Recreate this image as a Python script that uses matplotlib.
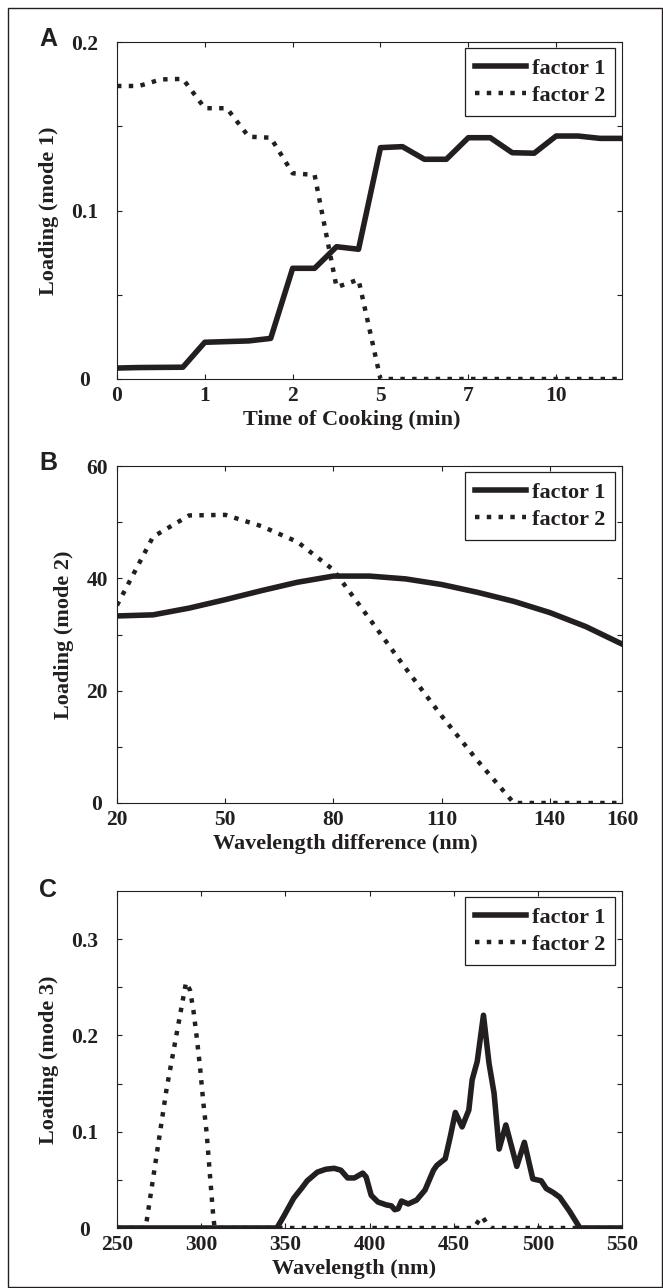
import matplotlib
matplotlib.use("Agg")
import matplotlib.pyplot as plt
from matplotlib.patches import Rectangle

# panel A: time of cooking, sample index with labelled minutes
a_index = list(range(1, 25))
a_ticks = [1, 5, 9, 13, 17, 21]
a_ticklabels = ["0", "1", "2", "5", "7", "10"]
a_factor1 = [0.0065, 0.0068, 0.0069, 0.0070, 0.0218, 0.0222, 0.0226, 0.0241,
             0.0657, 0.0657, 0.0785, 0.0770, 0.1373, 0.1379, 0.1304, 0.1304,
             0.1432, 0.1432, 0.1343, 0.1340, 0.1442, 0.1442, 0.1428, 0.1428]
a_factor2 = [0.1739, 0.1739, 0.1778, 0.1781, 0.1607, 0.1607, 0.1438, 0.1432,
             0.1221, 0.1211, 0.0545, 0.0590, 0.0, 0.0, 0.0, 0.0,
             0.0, 0.0, 0.0, 0.0, 0.0, 0.0, 0.0, 0.0]

# panel B: wavelength difference
b_wl = [20, 30, 40, 50, 60, 70, 80, 90, 100, 110, 120, 130, 140, 150, 160]
b_factor1 = [33.3, 33.5, 34.7, 36.2, 37.8, 39.3, 40.4, 40.4, 39.9, 38.9,
             37.5, 35.9, 33.9, 31.4, 28.3]
b_factor2 = [35.2, 47.4, 51.2, 51.3, 49.3, 46.5, 41.5, 32.8, 24.0, 15.5,
             7.5, 0.0, 0.0, 0.0, 0.0]

# panel C: wavelength
c_wl1 = [250, 345, 349, 355, 360, 363, 369, 374, 379, 383, 387, 391, 396,
         398, 401, 405, 410, 413, 415, 417, 419, 423, 428, 433, 438, 440,
         445, 448, 451, 455, 459, 461, 464, 467.7, 471, 474, 477, 481, 487.5,
         492, 497, 502, 505, 509, 513, 519, 525, 550]
c_factor1 = [0, 0, 0.012, 0.031, 0.042, 0.049, 0.058, 0.061, 0.062, 0.060,
             0.052, 0.052, 0.057, 0.053, 0.034, 0.027, 0.024, 0.023, 0.019,
             0.020, 0.028, 0.025, 0.029, 0.0395, 0.060, 0.065, 0.072, 0.095,
             0.120, 0.105, 0.1225, 0.154, 0.173, 0.221, 0.171, 0.140, 0.082,
             0.107, 0.064, 0.089, 0.051, 0.049, 0.041, 0.037, 0.032, 0.017,
             0, 0]
c_wl2 = [250, 267, 279.5, 291, 293.4, 295.4, 297.3, 299.3, 301.3, 303.3,
         305.3, 307.2, 308, 462, 465, 467, 469.5, 472, 550]
c_factor2 = [0, 0, 0.145, 0.255, 0.247, 0.226, 0.199, 0.1675, 0.130, 0.098,
             0.053, 0.012, 0, 0, 0.008, 0.012, 0.005, 0, 0]

INK = "#231f20"
W, H = 663, 1288

plt.rcParams["font.family"] = ["Liberation Serif", "DejaVu Serif"]
plt.rcParams["font.weight"] = "bold"
plt.rcParams["axes.labelweight"] = "bold"
plt.rcParams["text.color"] = INK
plt.rcParams["axes.labelcolor"] = INK
plt.rcParams["xtick.color"] = INK
plt.rcParams["ytick.color"] = INK

fig = plt.figure(figsize=(W / 100, H / 100), dpi=100)


def make_axes(bottom_px, ypad_pt):
    ax = fig.add_axes([117 / W, 1 - bottom_px / H, 505 / W, 337 / H])
    for s in ax.spines.values():
        s.set_linewidth(0.8)
        s.set_color(INK)
    ax.tick_params(which="both", direction="in", top=True, right=True,
                   length=3.6, width=0.8, labelsize=15.5)
    ax.tick_params(axis="x", pad=5)
    ax.tick_params(axis="y", pad=ypad_pt)
    return ax


def finish(ax, ylabel, xlabel, ylabel_x, xlabel_x):
    for t in ax.yaxis.get_major_ticks():
        t.label1.set_horizontalalignment("center")
    ax.set_ylabel(ylabel, fontsize=16)
    ax.yaxis.set_label_coords(ylabel_x, 0.5)
    ax.yaxis.label.set_va("center")
    ax.set_xlabel(xlabel, fontsize=16)
    ax.xaxis.set_label_coords(xlabel_x, -41 / 337)
    ax.xaxis.label.set_va("center")
    leg = ax.legend(loc="upper right", bbox_to_anchor=(0.986, 0.982),
                    borderaxespad=0, fancybox=False, framealpha=1,
                    fontsize=16, handlelength=2.3, handletextpad=0.25,
                    labelspacing=0.3, borderpad=0.45)
    leg.get_frame().set_edgecolor(INK)
    leg.get_frame().set_linewidth(0.9)


solid = dict(color=INK, lw=4.0, solid_joinstyle="round")
dotted = dict(color=INK, lw=3.2, linestyle=":")

# ---- A
ax = make_axes(379, 23)
ax.plot(a_index, a_factor1, label="factor 1", **solid)
ax.plot(a_index, a_factor2, label="factor 2", **dotted)
ax.set_xlim(1, 24)
ax.set_ylim(0, 0.2)
ax.set_xticks(a_ticks)
ax.set_xticklabels(a_ticklabels)
ax.set_yticks([0, 0.1, 0.2])
ax.set_yticklabels(["0", "0.1", "0.2"])
ax.set_yticks([0.05, 0.15], minor=True)
finish(ax, "Loading (mode 1)", "Time of Cooking (min)", -0.135, 0.465)

# ---- B
ax = make_axes(803, 14.4)
ax.plot(b_wl, b_factor1, label="factor 1", **solid)
ax.plot(b_wl, b_factor2, label="factor 2", **dotted)
ax.set_xlim(20, 160)
ax.set_ylim(0, 60)
ax.set_xticks([20, 50, 80, 110, 140, 160])
ax.set_yticks([0, 20, 40, 60])
ax.set_yticks([10, 30, 50], minor=True)
finish(ax, "Loading (mode 2)", "Wavelength difference (nm)", -0.105, 0.453)

# ---- C
ax = make_axes(1228, 23)
ax.plot(c_wl1, c_factor1, label="factor 1", **solid)
ax.plot(c_wl2, c_factor2, label="factor 2", **dotted)
ax.set_xlim(250, 550)
ax.set_ylim(0, 0.35)
ax.set_xticks([250, 300, 350, 400, 450, 500, 550])
ax.set_yticks([0, 0.1, 0.2, 0.3])
ax.set_yticklabels(["0", "0.1", "0.2", "0.3"])
ax.set_yticks([0.05, 0.15, 0.25], minor=True)
finish(ax, "Loading (mode 3)", "Wavelength (nm)", -0.135, 0.469)

# panel letters
for letter, ypx in [("A", 39), ("B", 463), ("C", 890)]:
    fig.text(48 / W, 1 - ypx / H, letter, fontsize=18, fontweight="bold",
             family=["Liberation Sans", "DejaVu Sans"], ha="center", va="center")

# outer frame
fig.patches.append(Rectangle((8 / W, 1.5 / H), (W - 9.5) / W, (H - 9.5) / H,
                             transform=fig.transFigure, fill=False,
                             edgecolor=INK, linewidth=1.0))

fig.savefig("out.png", dpi=100)
